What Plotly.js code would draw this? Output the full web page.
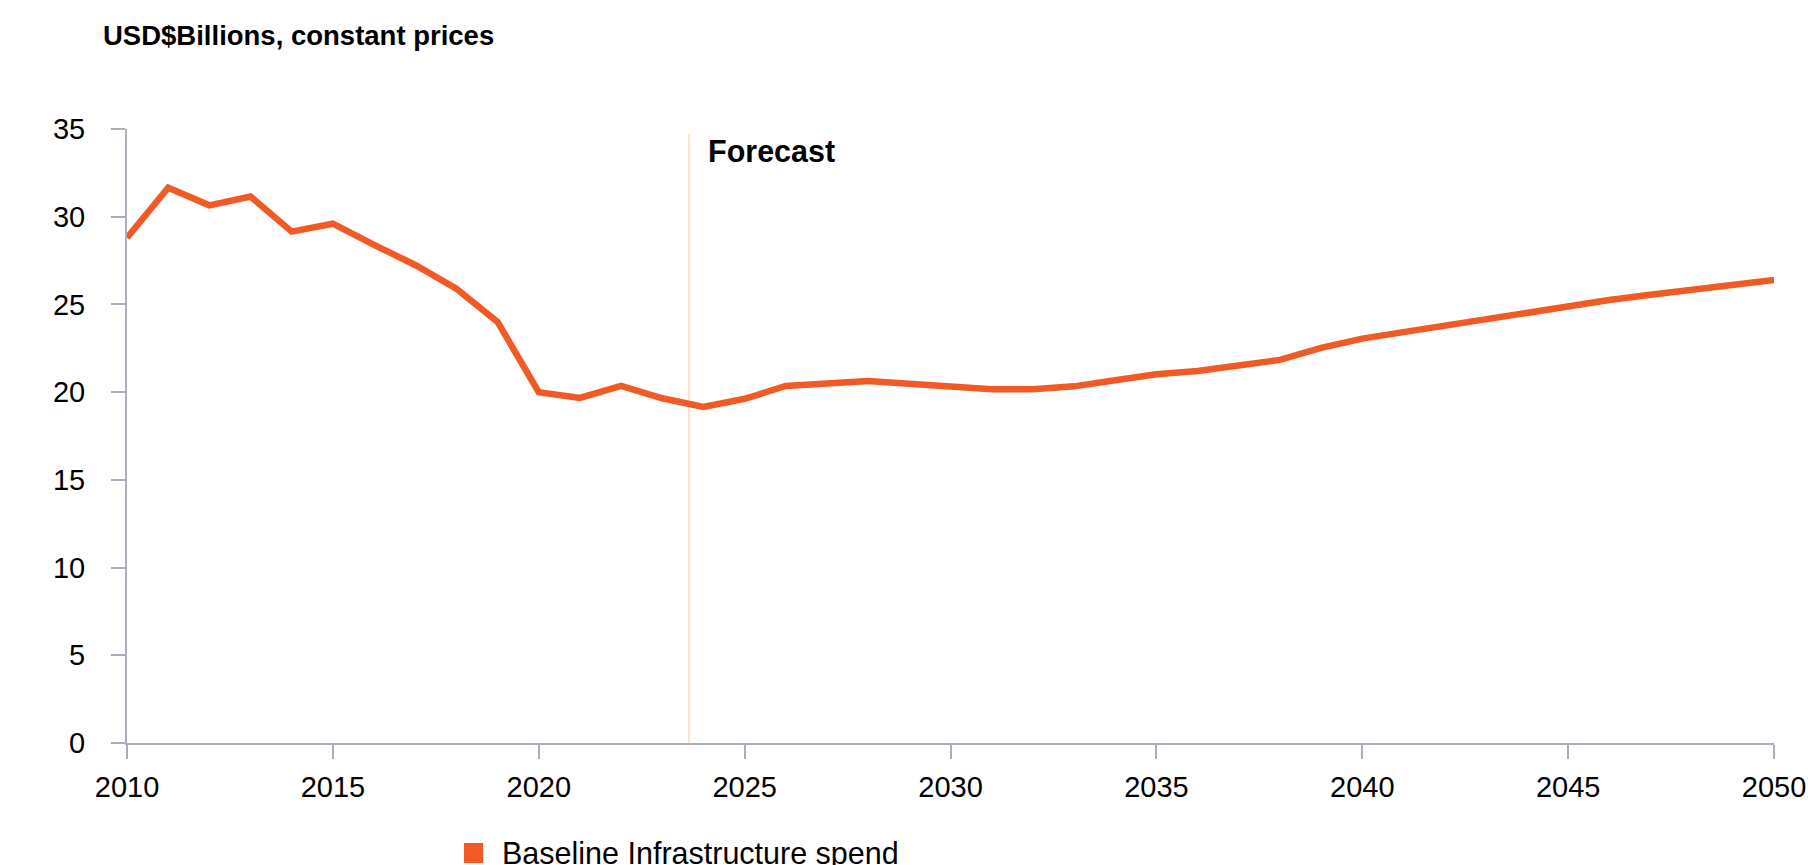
<!DOCTYPE html>
<html>
<head>
<meta charset="utf-8">
<script src="https://cdn.plot.ly/plotly-3.0.1.min.js"></script>
<style>
  html, body { margin: 0; padding: 0; background: #fff; }
  #chart { width: 1808px; height: 865px; }
</style>
</head>
<body>
<div id="chart"></div>
<script>
// ---- Data ----
const years = [2010, 2011, 2012, 2013, 2014, 2015, 2016, 2017, 2018, 2019,
               2020, 2021, 2022, 2023, 2024, 2025, 2026, 2027, 2028, 2029,
               2030, 2031, 2032, 2033, 2034, 2035, 2036, 2037, 2038, 2039,
               2040, 2041, 2042, 2043, 2044, 2045, 2046, 2047, 2048, 2049, 2050];
const baselineSpend = [28.8, 31.65, 30.65, 31.15, 29.15, 29.6, 28.4, 27.25, 25.9, 24.0,
                       20.0, 19.67, 20.35, 19.65, 19.15, 19.62, 20.35, 20.5, 20.64, 20.48,
                       20.33, 20.17, 20.17, 20.33, 20.68, 21.02, 21.2, 21.53, 21.84, 22.52,
                       23.05, 23.42, 23.8, 24.18, 24.55, 24.9, 25.25, 25.55, 25.85, 26.12, 26.4];
const seriesName = 'Baseline Infrastructure spend';
const forecastStart = 2023.65;
const xTicks = [2010, 2015, 2020, 2025, 2030, 2035, 2040, 2045, 2050];
const yTicks = [0, 5, 10, 15, 20, 25, 30, 35];
const yTitle = 'USD$Billions, constant prices';
const forecastLabel = 'Forecast';

// ---- Styling ----
const orange = '#f15a24';
const axisGrey = '#a9aebb';
const fontFamily = '"Liberation Sans", Arial, Helvetica, sans-serif';

const trace = {
  type: 'scatter',
  mode: 'lines',
  x: years,
  y: baselineSpend,
  name: seriesName,
  line: { color: orange, width: 6.5, shape: 'linear' },
  showlegend: false,
  hoverinfo: 'x+y'
};

const layout = {
  width: 1808,
  height: 865,
  margin: { l: 127, r: 34, t: 129, b: 122, pad: 0 },
  paper_bgcolor: '#ffffff',
  plot_bgcolor: '#ffffff',
  font: { family: fontFamily, color: '#000000', size: 29 },
  showlegend: false,
  xaxis: {
    range: [2010, 2050],
    tickmode: 'array',
    tickvals: xTicks,
    ticktext: xTicks.map(String),
    showgrid: false,
    zeroline: false,
    showline: true,
    linecolor: axisGrey,
    linewidth: 2,
    ticks: 'outside',
    ticklen: 14,
    tickwidth: 2,
    tickcolor: axisGrey,
    ticklabelstandoff: 3,
    ticklabeloverflow: 'allow',
    tickfont: { family: fontFamily, size: 29, color: '#000000' },
    fixedrange: true
  },
  yaxis: {
    range: [0, 35],
    tickmode: 'array',
    tickvals: yTicks,
    ticktext: yTicks.map(String),
    showgrid: false,
    zeroline: false,
    showline: true,
    linecolor: axisGrey,
    linewidth: 2,
    ticks: 'outside',
    ticklen: 14,
    tickwidth: 2,
    tickcolor: axisGrey,
    ticklabelstandoff: 20,
    ticklabeloverflow: 'allow',
    tickfont: { family: fontFamily, size: 29, color: '#000000' },
    fixedrange: true
  },
  shapes: [
    {
      type: 'line', xref: 'x', yref: 'y',
      x0: forecastStart, x1: forecastStart, y0: 0, y1: 34.7,
      line: { color: '#fcd9bb', width: 1.5 },
      layer: 'below'
    },
    {
      type: 'rect', xref: 'paper', yref: 'paper',
      x0: 0.2046, x1: 0.2162, y0: -0.1954, y1: -0.1629,
      fillcolor: orange, line: { width: 0 }
    }
  ],
  annotations: [
    {
      text: yTitle, xref: 'paper', yref: 'paper',
      x: -0.0158, y: 1.1515, xanchor: 'left', yanchor: 'middle',
      showarrow: false,
      font: { family: fontFamily, size: 27.5, color: '#000000', weight: 'bold' }
    },
    {
      text: '<b>' + forecastLabel + '</b>', xref: 'x', yref: 'y',
      x: forecastStart, y: 33.75, xanchor: 'left', yanchor: 'middle',
      xshift: 17, showarrow: false,
      font: { family: fontFamily, size: 30.5, color: '#000000' }
    },
    {
      text: seriesName, xref: 'paper', yref: 'paper',
      x: 0.2265, y: -0.18, xanchor: 'left', yanchor: 'middle',
      showarrow: false,
      font: { family: fontFamily, size: 30.5, color: '#000000' }
    }
  ]
};

Plotly.newPlot('chart', [trace], layout, { displayModeBar: false, staticPlot: true });
</script>
</body>
</html>
